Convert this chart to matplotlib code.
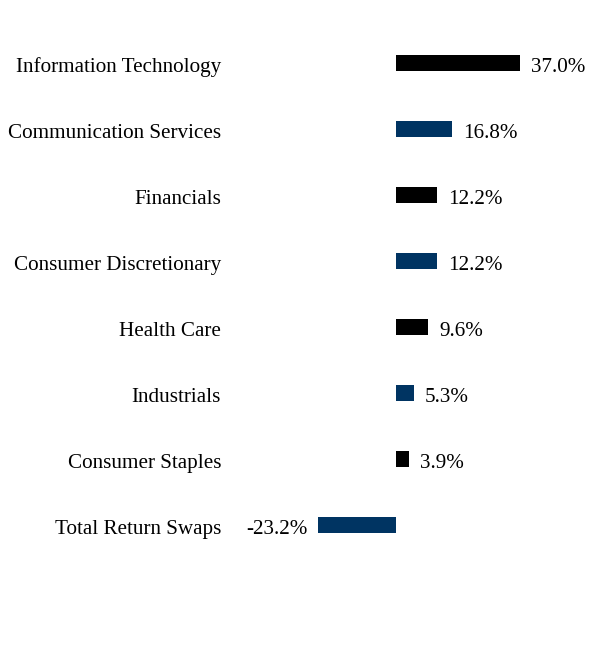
import matplotlib
matplotlib.use("Agg")
import matplotlib.pyplot as plt
from matplotlib.transforms import ScaledTranslation

# sector weights (%)
sectors = ["Information Technology", "Communication Services", "Financials",
           "Consumer Discretionary", "Health Care", "Industrials",
           "Consumer Staples", "Total Return Swaps"]
values = [37.0, 16.8, 12.2, 12.2, 9.6, 5.3, 3.9, -23.2]
colors = ["#000000", "#003462", "#000000", "#003462",
          "#000000", "#003462", "#000000", "#003462"]

plt.rcParams['font.family'] = ['Liberation Serif', 'DejaVu Serif']

W, H = 608, 648
fs = 15.2
fig = plt.figure(figsize=(W / 100, H / 100), dpi=100)

# axes covers x pixels 230..608, full height
left_px = 230
ax = fig.add_axes([left_px / W, 0, 1 - left_px / W, 1])

scale = 3.35  # pixels per percent
zero_px = 396
ax.set_xlim((left_px - zero_px) / scale, (W - zero_px) / scale)
ax.set_ylim((H - 63) / 66, -63 / 66)

ypos = list(range(len(sectors)))
ax.barh(ypos, values, height=0.24, color=colors)

for y, v in zip(ypos, values):
    off = 11 if v >= 0 else -11
    ax.annotate("%.1f%%" % v, (v, y), xytext=(off * 0.72, -1.2),
                textcoords="offset points", va="center_baseline",
                ha="left" if v >= 0 else "right", fontsize=fs)

ax.set_yticks(ypos)
ax.set_yticklabels(sectors, fontsize=fs, va="center_baseline")
ax.tick_params(axis='y', length=0, pad=9 * 0.72)
shift = ScaledTranslation(0, -1.2 / 72, fig.dpi_scale_trans)
for lbl in ax.get_yticklabels():
    lbl.set_transform(lbl.get_transform() + shift)
ax.set_xticks([])
for s in ax.spines.values():
    s.set_visible(False)

fig.savefig("out.png", dpi=100)
